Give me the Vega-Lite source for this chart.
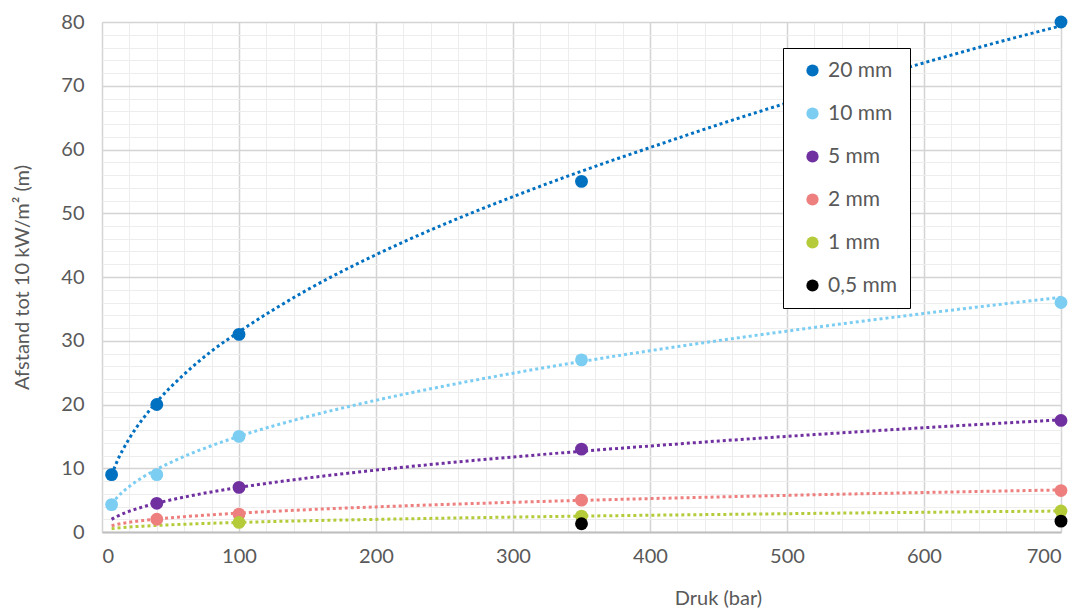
{
  "$schema": "https://vega.github.io/schema/vega-lite/v6.json",
  "width": 959,
  "height": 510,
  "autosize": {"type": "none"},
  "padding": {"left": 102, "top": 22, "right": 22, "bottom": 79},
  "background": "white",
  "config": {
    "view": {"stroke": null},
    "font": "Lato",
    "axis": {"labelFont": "Lato", "titleFont": "Lato", "labelColor": "#595959", "titleColor": "#595959", "labelFontSize": 20, "titleFontSize": 20, "titleFontWeight": "normal"}
  },
  "datasets": {
    "points": [
      {"x": 7, "y": 9, "series": "20 mm"},
      {"x": 40, "y": 20, "series": "20 mm"},
      {"x": 100, "y": 31, "series": "20 mm"},
      {"x": 350, "y": 55, "series": "20 mm"},
      {"x": 700, "y": 80, "series": "20 mm"},
      {"x": 7, "y": 4.3, "series": "10 mm"},
      {"x": 40, "y": 9, "series": "10 mm"},
      {"x": 100, "y": 15, "series": "10 mm"},
      {"x": 350, "y": 27, "series": "10 mm"},
      {"x": 700, "y": 36, "series": "10 mm"},
      {"x": 40, "y": 4.5, "series": "5 mm"},
      {"x": 100, "y": 7, "series": "5 mm"},
      {"x": 350, "y": 13, "series": "5 mm"},
      {"x": 700, "y": 17.5, "series": "5 mm"},
      {"x": 40, "y": 2, "series": "2 mm"},
      {"x": 100, "y": 2.8, "series": "2 mm"},
      {"x": 350, "y": 5, "series": "2 mm"},
      {"x": 700, "y": 6.5, "series": "2 mm"},
      {"x": 100, "y": 1.5, "series": "1 mm"},
      {"x": 350, "y": 2.5, "series": "1 mm"},
      {"x": 700, "y": 3.3, "series": "1 mm"},
      {"x": 350, "y": 1.3, "series": "0,5 mm"},
      {"x": 700, "y": 1.7, "series": "0,5 mm"}
    ],
    "trend": [
      {"x": 7, "y": 8.92, "curve": "20 mm"}, {"x": 10, "y": 10.57, "curve": "20 mm"}, {"x": 20, "y": 14.69, "curve": "20 mm"}, {"x": 30, "y": 17.81, "curve": "20 mm"}, {"x": 40, "y": 20.42, "curve": "20 mm"}, {"x": 60, "y": 24.75, "curve": "20 mm"}, {"x": 80, "y": 28.38, "curve": "20 mm"}, {"x": 100, "y": 31.4, "curve": "20 mm"}, {"x": 150, "y": 38.0, "curve": "20 mm"}, {"x": 200, "y": 43.5, "curve": "20 mm"}, {"x": 250, "y": 48.3, "curve": "20 mm"}, {"x": 300, "y": 52.6, "curve": "20 mm"}, {"x": 350, "y": 56.6, "curve": "20 mm"}, {"x": 400, "y": 60.3, "curve": "20 mm"}, {"x": 450, "y": 63.9, "curve": "20 mm"}, {"x": 500, "y": 67.3, "curve": "20 mm"}, {"x": 550, "y": 70.5, "curve": "20 mm"}, {"x": 600, "y": 73.6, "curve": "20 mm"}, {"x": 650, "y": 76.6, "curve": "20 mm"}, {"x": 700, "y": 79.4, "curve": "20 mm"},
      {"x": 7, "y": 4.4, "curve": "10 mm"}, {"x": 10, "y": 5.19, "curve": "10 mm"}, {"x": 20, "y": 7.15, "curve": "10 mm"}, {"x": 30, "y": 8.62, "curve": "10 mm"}, {"x": 40, "y": 9.84, "curve": "10 mm"}, {"x": 60, "y": 11.86, "curve": "10 mm"}, {"x": 80, "y": 13.54, "curve": "10 mm"}, {"x": 100, "y": 15.01, "curve": "10 mm"}, {"x": 150, "y": 18.09, "curve": "10 mm"}, {"x": 200, "y": 20.66, "curve": "10 mm"}, {"x": 250, "y": 22.9, "curve": "10 mm"}, {"x": 300, "y": 24.91, "curve": "10 mm"}, {"x": 350, "y": 26.74, "curve": "10 mm"}, {"x": 400, "y": 28.44, "curve": "10 mm"}, {"x": 450, "y": 30.02, "curve": "10 mm"}, {"x": 500, "y": 31.51, "curve": "10 mm"}, {"x": 550, "y": 32.93, "curve": "10 mm"}, {"x": 600, "y": 34.28, "curve": "10 mm"}, {"x": 650, "y": 35.57, "curve": "10 mm"}, {"x": 700, "y": 36.81, "curve": "10 mm"},
      {"x": 7, "y": 1.98, "curve": "5 mm"}, {"x": 10, "y": 2.34, "curve": "5 mm"}, {"x": 20, "y": 3.26, "curve": "5 mm"}, {"x": 30, "y": 3.95, "curve": "5 mm"}, {"x": 40, "y": 4.52, "curve": "5 mm"}, {"x": 60, "y": 5.48, "curve": "5 mm"}, {"x": 80, "y": 6.29, "curve": "5 mm"}, {"x": 100, "y": 6.99, "curve": "5 mm"}, {"x": 150, "y": 8.47, "curve": "5 mm"}, {"x": 200, "y": 9.71, "curve": "5 mm"}, {"x": 250, "y": 10.8, "curve": "5 mm"}, {"x": 300, "y": 11.77, "curve": "5 mm"}, {"x": 350, "y": 12.67, "curve": "5 mm"}, {"x": 400, "y": 13.49, "curve": "5 mm"}, {"x": 450, "y": 14.27, "curve": "5 mm"}, {"x": 500, "y": 15.0, "curve": "5 mm"}, {"x": 550, "y": 15.69, "curve": "5 mm"}, {"x": 600, "y": 16.36, "curve": "5 mm"}, {"x": 650, "y": 16.99, "curve": "5 mm"}, {"x": 700, "y": 17.6, "curve": "5 mm"},
      {"x": 7, "y": 0.99, "curve": "2 mm"}, {"x": 10, "y": 1.15, "curve": "2 mm"}, {"x": 20, "y": 1.53, "curve": "2 mm"}, {"x": 30, "y": 1.8, "curve": "2 mm"}, {"x": 40, "y": 2.03, "curve": "2 mm"}, {"x": 60, "y": 2.4, "curve": "2 mm"}, {"x": 80, "y": 2.7, "curve": "2 mm"}, {"x": 100, "y": 2.96, "curve": "2 mm"}, {"x": 150, "y": 3.5, "curve": "2 mm"}, {"x": 200, "y": 3.94, "curve": "2 mm"}, {"x": 250, "y": 4.32, "curve": "2 mm"}, {"x": 300, "y": 4.66, "curve": "2 mm"}, {"x": 350, "y": 4.96, "curve": "2 mm"}, {"x": 400, "y": 5.24, "curve": "2 mm"}, {"x": 450, "y": 5.5, "curve": "2 mm"}, {"x": 500, "y": 5.75, "curve": "2 mm"}, {"x": 550, "y": 5.98, "curve": "2 mm"}, {"x": 600, "y": 6.19, "curve": "2 mm"}, {"x": 650, "y": 6.4, "curve": "2 mm"}, {"x": 700, "y": 6.6, "curve": "2 mm"},
      {"x": 7, "y": 0.51, "curve": "1 mm"}, {"x": 10, "y": 0.59, "curve": "1 mm"}, {"x": 20, "y": 0.78, "curve": "1 mm"}, {"x": 30, "y": 0.92, "curve": "1 mm"}, {"x": 40, "y": 1.03, "curve": "1 mm"}, {"x": 60, "y": 1.22, "curve": "1 mm"}, {"x": 80, "y": 1.37, "curve": "1 mm"}, {"x": 100, "y": 1.5, "curve": "1 mm"}, {"x": 150, "y": 1.77, "curve": "1 mm"}, {"x": 200, "y": 1.98, "curve": "1 mm"}, {"x": 250, "y": 2.17, "curve": "1 mm"}, {"x": 300, "y": 2.34, "curve": "1 mm"}, {"x": 350, "y": 2.49, "curve": "1 mm"}, {"x": 400, "y": 2.63, "curve": "1 mm"}, {"x": 450, "y": 2.75, "curve": "1 mm"}, {"x": 500, "y": 2.87, "curve": "1 mm"}, {"x": 550, "y": 2.99, "curve": "1 mm"}, {"x": 600, "y": 3.09, "curve": "1 mm"}, {"x": 650, "y": 3.2, "curve": "1 mm"}, {"x": 700, "y": 3.29, "curve": "1 mm"}
    ]
  },
  "resolve": {"axis": {"x": "independent", "y": "independent"}},
  "layer": [
    {
      "data": {"name": "trend"},
      "mark": {"type": "line", "strokeDash": [3, 3], "strokeWidth": 3, "interpolate": "monotone"},
      "encoding": {
        "x": {
          "field": "x", "type": "quantitative",
          "scale": {"domain": [0, 700], "nice": false, "zero": false},
          "axis": {
            "orient": "bottom",
            "title": null, "labels": false, "ticks": false, "domain": false,
            "values": [0, 20, 40, 60, 80, 120, 140, 160, 180, 220, 240, 260, 280, 320, 340, 360, 380, 420, 440, 460, 480, 520, 540, 560, 580, 620, 640, 660, 680],
            "grid": true, "gridColor": "#EDEDED", "gridWidth": 1
          }
        },
        "y": {
          "field": "y", "type": "quantitative",
          "scale": {"domain": [0, 80], "nice": false},
          "axis": {
            "orient": "left",
            "title": null, "labels": false, "ticks": false, "domain": false,
            "values": [2, 4, 6, 8, 12, 14, 16, 18, 22, 24, 26, 28, 32, 34, 36, 38, 42, 44, 46, 48, 52, 54, 56, 58, 62, 64, 66, 68, 72, 74, 76, 78],
            "grid": true, "gridColor": "#EDEDED", "gridWidth": 1
          }
        },
        "stroke": {
          "field": "curve", "type": "nominal",
          "scale": {"domain": ["20 mm", "10 mm", "5 mm", "2 mm", "1 mm"], "range": ["#0070C0", "#7CCDF2", "#7030A0", "#EE7F7F", "#B5CB3A"]},
          "legend": null
        }
      }
    },
    {
      "data": {"name": "points"},
      "mark": {"type": "point", "filled": true, "opacity": 1, "size": 165, "shape": "circle"},
      "encoding": {
        "x": {
          "field": "x", "type": "quantitative",
          "axis": {
            "orient": "bottom",
            "title": "Druk (bar)",
            "titleX": 616, "titleY": 72, "titleBaseline": "alphabetic", "titleAnchor": "middle",
            "values": [0, 100, 200, 300, 400, 500, 600, 700],
            "labelPadding": 14,
            "labelOverlap": false,
            "ticks": false,
            "domain": true, "domainColor": "#BFBFBF", "domainWidth": 2,
            "grid": true, "gridColor": "#D4D4D4", "gridWidth": 1.5
          }
        },
        "y": {
          "field": "y", "type": "quantitative",
          "axis": {
            "orient": "left",
            "title": "Afstand tot 10 kW/m² (m)",
            "titleX": -70,
            "values": [0, 10, 20, 30, 40, 50, 60, 70, 80],
            "labelPadding": 18,
            "labelOverlap": false,
            "ticks": false,
            "domain": false,
            "grid": true, "gridColor": "#D4D4D4", "gridWidth": 1.5
          }
        },
        "color": {
          "field": "series", "type": "nominal",
          "scale": {"domain": ["20 mm", "10 mm", "5 mm", "2 mm", "1 mm", "0,5 mm"], "range": ["#0070C0", "#7CCDF2", "#7030A0", "#EE7F7F", "#B5CB3A", "#000000"]},
          "legend": {
            "title": null,
            "orient": "none",
            "legendX": 681,
            "legendY": 26,
            "fillColor": "white",
            "strokeColor": "black",
            "cornerRadius": 0,
            "padding": 12,
            "rowPadding": 21,
            "symbolType": "circle",
            "symbolSize": 150,
            "symbolOffset": 7,
            "labelOffset": 5,
            "labelFont": "Lato",
            "labelFontSize": 21,
            "labelColor": "#595959",
            "encode": {"legend": {"update": {"strokeWidth": {"value": 2}}}}
          }
        }
      }
    }
  ]
}
